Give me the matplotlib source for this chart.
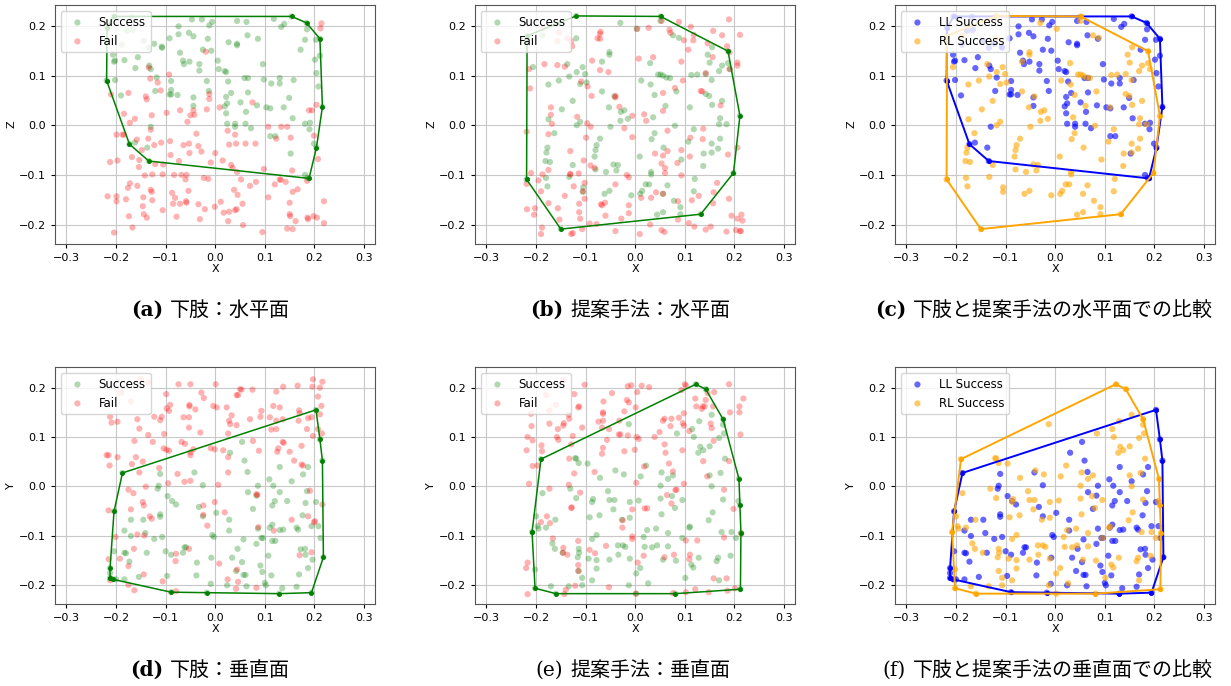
import numpy as np
import matplotlib
matplotlib.use("Agg")
import matplotlib.pyplot as plt

# ---- horizontal plane (X-Z) ----
ll_h_success = np.array([
    (-0.219, 0.090), (-0.218, 0.196), (-0.205, 0.219), (-0.168, 0.218), (-0.166, 0.192),
    (-0.178, 0.190), (-0.144, 0.170), (-0.188, 0.162), (-0.134, 0.156), (-0.123, 0.164),
    (-0.107, 0.156), (-0.206, 0.142), (-0.204, 0.128), (0.154, 0.219), (0.184, 0.206),
    (0.211, 0.174), (0.216, 0.037), (0.189, -0.107), (-0.134, -0.072), (-0.173, -0.038),
    (-0.074, 0.199), (-0.047, 0.213), (-0.027, 0.213), (-0.012, 0.201), (-0.006, 0.208),
    (0.044, 0.210), (0.063, 0.208), (0.118, 0.214), (0.133, 0.198), (0.139, 0.204),
    (-0.053, 0.186), (-0.044, 0.179), (-0.074, 0.183), (-0.015, 0.174), (0.044, 0.164),
    (0.044, 0.161), (0.027, 0.167), (0.065, 0.181), (0.086, 0.174), (0.185, 0.193),
    (0.181, 0.172), (0.203, 0.172), (0.211, 0.140), (0.201, 0.132), (0.172, 0.152),
    (0.204, 0.105), (0.208, 0.078), (0.158, 0.091), (0.130, 0.095), (0.130, 0.084),
    (0.113, 0.084), (0.138, 0.036), (0.149, 0.055), (0.156, 0.014), (0.103, 0.036),
    (0.111, 0.034), (0.181, 0.003), (0.191, 0.005), (0.190, -0.008), (0.199, -0.037),
    (0.204, -0.045), (0.152, -0.057), (0.111, -0.022), (0.121, -0.022), (0.181, -0.100),
    (0.186, -0.106), (0.096, 0.123), (0.098, 0.092), (0.059, 0.095), (0.066, 0.095),
    (0.066, 0.066), (0.051, 0.046), (0.062, 0.027), (0.061, 0.003), (0.072, -0.006),
    (0.084, 0.040), (0.040, 0.003), (0.040, -0.003), (0.024, 0.003), (0.019, 0.038),
    (0.024, 0.044), (0.022, 0.024), (0.022, 0.057), (0.032, 0.065), (0.026, 0.088),
    (0.019, 0.109), (0.022, 0.107), (0.007, 0.113), (0.005, 0.130), (-0.008, 0.150),
    (-0.025, 0.152), (-0.032, 0.123), (-0.032, 0.110), (-0.017, 0.089), (-0.013, 0.069),
    (-0.044, 0.056), (-0.044, 0.039), (-0.065, 0.130), (-0.063, 0.123), (-0.052, 0.128),
    (-0.071, 0.146), (-0.089, 0.089), (-0.089, 0.071), (-0.089, 0.062), (-0.092, 0.062),
    (-0.076, 0.061), (-0.118, 0.096), (-0.130, 0.113), (-0.133, 0.120), (-0.121, 0.069),
    (-0.130, -0.003), (-0.137, -0.045), (-0.161, 0.115), (-0.156, 0.137), (-0.183, 0.131),
    (-0.202, 0.130), (-0.202, 0.091), (-0.190, 0.060), (-0.162, -0.035), (-0.092, 0.175),
    (-0.108, 0.158),
])

ll_h_fail = np.array([
    (0.214, 0.205), (0.212, 0.195), (-0.019, 0.148), (-0.134, 0.116), (-0.093, 0.102),
    (-0.131, 0.094), (-0.116, 0.086), (-0.110, 0.070), (-0.175, 0.065), (-0.210, 0.062),
    (-0.140, 0.058), (-0.138, 0.052), (-0.012, 0.063), (-0.012, 0.053), (0.009, 0.036),
    (0.075, 0.046), (-0.071, 0.030), (-0.044, 0.030), (-0.017, 0.032), (-0.050, 0.020),
    (-0.042, 0.021), (-0.098, 0.025), (-0.128, 0.020), (-0.184, 0.023), (-0.162, 0.013),
    (-0.172, 0.005), (-0.056, 0.007), (0.189, 0.030), (0.195, 0.030), (0.204, 0.041),
    (-0.199, -0.019), (-0.187, -0.019), (-0.184, -0.019), (-0.158, -0.029), (-0.135, -0.027),
    (-0.130, -0.009), (-0.038, -0.017), (0.025, -0.011), (0.040, -0.019), (0.107, -0.003),
    (0.133, -0.003), (0.145, -0.003), (0.152, -0.025), (0.123, -0.027), (0.199, -0.021),
    (-0.109, -0.035), (-0.123, -0.040), (-0.091, -0.032), (-0.064, -0.040), (-0.053, -0.037),
    (-0.034, -0.042), (-0.028, -0.053), (-0.052, -0.056), (-0.090, -0.060), (0.028, -0.039),
    (0.042, -0.037), (0.061, -0.037), (0.081, -0.037), (-0.148, -0.050), (-0.168, -0.064),
    (-0.153, -0.070), (-0.197, -0.071), (-0.212, -0.074), (-0.154, -0.084), (-0.121, -0.078),
    (-0.105, -0.079), (-0.073, -0.072), (-0.009, -0.075), (0.000, -0.056), (0.015, -0.071),
    (0.032, -0.080), (0.035, -0.086), (0.044, -0.094), (0.098, -0.088), (0.207, -0.068),
    (0.155, -0.091), (-0.142, -0.101), (-0.127, -0.099), (-0.106, -0.099), (-0.083, -0.100),
    (-0.068, -0.100), (-0.058, -0.100), (-0.060, -0.109), (-0.023, -0.106), (-0.014, -0.108),
    (0.052, -0.109), (0.070, -0.122), (0.082, -0.114), (0.120, -0.119), (0.130, -0.109),
    (0.132, -0.110), (0.142, -0.114), (0.156, -0.134), (0.166, -0.129), (0.185, -0.112),
    (-0.172, -0.117), (-0.176, -0.126), (-0.157, -0.122), (-0.130, -0.130), (-0.128, -0.134),
    (-0.054, -0.132), (0.038, -0.130), (0.045, -0.140), (-0.087, -0.136), (-0.081, -0.146),
    (-0.217, -0.143), (-0.199, -0.143), (-0.199, -0.153), (-0.180, -0.149), (-0.145, -0.145),
    (-0.127, -0.151), (-0.059, -0.153), (-0.058, -0.156), (-0.085, -0.158), (-0.071, -0.158),
    (-0.034, -0.159), (0.011, -0.154), (0.055, -0.158), (0.107, -0.145), (0.150, -0.156),
    (0.219, -0.153), (-0.146, -0.163), (-0.144, -0.179), (-0.138, -0.186), (-0.106, -0.171),
    (-0.078, -0.184), (-0.021, -0.169), (-0.001, -0.164), (0.017, -0.176), (0.028, -0.174),
    (0.040, -0.171), (0.043, -0.169), (0.026, -0.193), (-0.031, -0.189), (0.056, -0.201),
    (-0.174, -0.183), (-0.167, -0.206), (-0.204, -0.216), (0.095, -0.215), (0.150, -0.179),
    (0.151, -0.183), (0.145, -0.208), (0.156, -0.209), (0.162, -0.193), (0.186, -0.186),
    (0.187, -0.189), (0.198, -0.183), (0.205, -0.186), (0.219, -0.197),
])

rl_h_success = np.array([
    (-0.218, 0.180), (-0.187, 0.181), (-0.119, 0.175), (-0.119, 0.220), (-0.030, 0.206),
    (0.051, 0.219), (0.051, 0.210), (0.003, 0.194), (0.076, 0.181), (0.088, 0.176),
    (-0.052, 0.147), (-0.052, 0.142), (-0.067, 0.128), (-0.137, 0.123), (-0.106, 0.117),
    (-0.118, 0.107), (-0.101, 0.103), (-0.133, 0.098), (-0.154, 0.090), (-0.175, 0.082),
    (-0.206, 0.117), (-0.111, 0.083), (-0.098, 0.086), (-0.067, 0.068), (-0.042, 0.058),
    (-0.126, 0.049), (-0.053, 0.036), (-0.148, 0.032), (-0.022, 0.030), (-0.029, 0.027),
    (-0.015, 0.013), (-0.030, 0.009), (-0.111, 0.007), (-0.118, 0.000), (-0.175, 0.012),
    (-0.163, -0.016), (-0.050, -0.003), (-0.071, -0.027), (-0.078, -0.040), (-0.080, -0.050),
    (-0.177, -0.045), (-0.179, -0.055), (-0.172, -0.074), (-0.181, -0.072), (-0.082, -0.063),
    (-0.080, -0.089), (-0.180, -0.106), (-0.177, -0.123), (-0.133, -0.104), (-0.126, -0.080),
    (-0.105, -0.125), (-0.105, -0.134), (-0.059, -0.094), (-0.044, -0.079), (-0.035, -0.080),
    (-0.038, -0.091), (-0.052, -0.132), (-0.062, -0.138), (-0.008, -0.141), (0.009, -0.063),
    (0.010, -0.138), (0.014, -0.132), (0.021, -0.119), (0.028, -0.119), (0.032, -0.094),
    (0.032, -0.099), (0.044, -0.180), (0.056, -0.175), (0.056, -0.138), (0.065, -0.121),
    (0.078, -0.152), (0.091, -0.165), (0.091, -0.179), (0.120, -0.108), (0.118, -0.133),
    (0.132, -0.179), (0.093, -0.069), (0.107, -0.033), (0.118, -0.008), (0.138, -0.057),
    (0.137, -0.082), (0.154, -0.037), (0.154, -0.055), (0.167, -0.047), (0.171, -0.027),
    (0.198, -0.096), (0.169, 0.002), (0.184, 0.002), (0.171, 0.014), (0.211, 0.019),
    (0.155, 0.041), (0.175, 0.049), (0.149, 0.059), (0.142, 0.063), (0.154, 0.091),
    (0.142, 0.103), (0.125, 0.102), (0.113, 0.101), (0.169, 0.109), (0.175, 0.120),
    (0.150, 0.126), (0.146, 0.142), (0.155, 0.157), (0.187, 0.149), (0.187, 0.125),
    (0.191, 0.113), (0.083, 0.068), (0.063, 0.096), (0.070, 0.095), (0.046, 0.102),
    (0.051, 0.102), (0.056, 0.100), (0.039, 0.061), (0.036, 0.016), (0.061, 0.039),
    (0.080, -0.001), (0.057, -0.045), (0.039, -0.016), (0.033, -0.028), (0.030, 0.125),
    (0.031, 0.082), (0.012, 0.090), (0.110, 0.036), (-0.219, -0.109), (-0.150, -0.209),
])

rl_h_fail = np.array([
    (0.189, 0.213), (0.211, 0.182), (0.157, 0.190), (0.175, 0.181), (0.088, 0.208),
    (0.053, 0.210), (0.027, 0.196), (0.004, 0.194), (0.069, 0.192), (0.071, 0.186),
    (0.112, 0.198), (0.118, 0.182), (0.098, 0.171), (0.117, 0.171), (0.107, 0.152),
    (0.146, 0.165), (0.156, 0.137), (0.185, 0.159), (0.190, 0.147), (0.206, 0.126),
    (0.206, 0.120), (0.190, 0.113), (0.142, 0.105), (0.093, 0.128), (0.036, 0.137),
    (0.007, 0.134), (0.096, 0.090), (0.080, 0.075), (0.056, 0.065), (0.132, 0.069),
    (0.135, 0.068), (0.172, 0.040), (0.056, 0.029), (0.018, 0.022), (-0.006, 0.019),
    (0.022, 0.009), (-0.070, 0.188), (-0.071, 0.184), (-0.076, 0.175), (-0.071, 0.174),
    (-0.071, 0.111), (-0.054, 0.107), (-0.087, 0.130), (-0.142, 0.118), (-0.157, 0.121),
    (-0.214, 0.113), (-0.183, 0.123), (-0.109, 0.088), (-0.096, 0.078), (-0.212, 0.074),
    (-0.088, 0.059), (-0.040, 0.059), (-0.040, 0.056), (-0.032, 0.037), (-0.170, 0.036),
    (-0.170, 0.021), (-0.168, 0.003), (-0.117, 0.017), (-0.097, 0.004), (-0.090, -0.003),
    (-0.022, -0.006), (-0.175, -0.018), (-0.099, -0.025), (-0.006, -0.024), (-0.219, -0.013),
    (-0.131, -0.052), (-0.104, -0.071), (-0.090, -0.081), (-0.082, -0.086), (-0.131, -0.098),
    (-0.131, -0.099), (-0.114, -0.097), (-0.210, -0.096), (-0.187, -0.099), (-0.175, -0.090),
    (-0.195, -0.111), (-0.190, -0.133), (-0.219, -0.118), (-0.124, -0.123), (-0.102, -0.116),
    (-0.106, -0.133), (-0.040, -0.119), (-0.017, -0.100), (-0.013, -0.105), (-0.142, -0.142),
    (-0.102, -0.148), (-0.218, -0.169), (-0.202, -0.167), (-0.204, -0.180), (-0.175, -0.157),
    (-0.156, -0.167), (-0.153, -0.190), (-0.188, -0.206), (-0.190, -0.219), (-0.129, -0.219),
    (-0.126, -0.217), (-0.113, -0.158), (-0.113, -0.175), (-0.111, -0.188), (-0.107, -0.209),
    (-0.092, -0.198), (-0.078, -0.199), (-0.069, -0.159), (-0.067, -0.161), (-0.061, -0.156),
    (-0.060, -0.182), (-0.028, -0.188), (-0.040, -0.213), (-0.013, -0.161), (-0.013, -0.177),
    (0.009, -0.219), (0.030, -0.200), (0.012, -0.146), (0.032, -0.146), (0.042, -0.135),
    (0.053, -0.077), (0.056, -0.061), (0.060, -0.086), (0.060, -0.096), (0.065, -0.052),
    (0.040, -0.057), (0.065, -0.011), (0.056, -0.138), (0.053, -0.211), (0.059, -0.215),
    (0.086, -0.153), (0.086, -0.190), (0.093, -0.101), (0.085, -0.076), (0.093, -0.050),
    (0.110, -0.063), (0.111, -0.025), (0.136, -0.028), (0.137, -0.007), (0.114, -0.151),
    (0.108, -0.197), (0.119, -0.204), (0.128, -0.142), (0.142, -0.210), (0.152, -0.204),
    (0.157, -0.157), (0.158, -0.135), (0.165, -0.116), (0.187, -0.059), (0.189, -0.148),
    (0.206, -0.045), (0.194, -0.182), (0.184, -0.214), (0.206, -0.188), (0.214, -0.180),
    (0.216, -0.192), (0.203, -0.211), (0.211, -0.213), (0.213, -0.213), (-0.153, 0.187),
    (-0.137, 0.175), (-0.129, 0.169), (-0.127, 0.159), (-0.157, 0.169), (-0.187, 0.195),
])

# ---- vertical plane (X-Y) ----
ll_v_success = np.array([
    (0.203, 0.155), (0.211, 0.095), (0.216, 0.052), (0.054, 0.090), (0.030, 0.068),
    (0.059, 0.052), (0.065, 0.029), (-0.042, 0.028), (-0.025, 0.002), (-0.111, 0.025),
    (-0.114, 0.001), (-0.116, -0.005), (-0.187, 0.027), (0.130, 0.039), (0.109, 0.014),
    (0.117, 0.001), (0.086, 0.001), (0.066, -0.012), (0.083, -0.019), (0.076, -0.046),
    (0.130, -0.012), (0.145, -0.030), (0.120, -0.030), (0.115, -0.039), (0.154, 0.010),
    (0.177, 0.024), (0.187, 0.039), (0.185, -0.010), (0.182, -0.034), (0.203, -0.032),
    (0.176, -0.059), (0.194, -0.081), (0.208, -0.081), (0.212, -0.105), (0.218, -0.144),
    (0.164, -0.084), (0.167, -0.088), (0.130, -0.089), (0.137, -0.088), (0.110, -0.084),
    (0.115, -0.078), (0.086, -0.086), (0.093, -0.105), (0.096, -0.105), (0.115, -0.111),
    (0.121, -0.111), (0.083, -0.117), (0.057, -0.108), (0.028, -0.068), (0.028, -0.090),
    (-0.006, -0.099), (-0.003, -0.103), (0.002, -0.054), (-0.025, -0.061), (-0.033, -0.042),
    (-0.079, -0.037), (-0.087, -0.030), (-0.096, -0.020), (-0.111, -0.057), (-0.111, -0.062),
    (-0.107, -0.103), (-0.123, -0.107), (-0.145, -0.068), (-0.141, -0.095), (-0.170, -0.068),
    (-0.170, -0.101), (-0.183, -0.090), (-0.204, -0.051), (-0.204, -0.132), (-0.183, -0.135),
    (-0.180, -0.136), (-0.173, -0.153), (-0.138, -0.135), (-0.100, -0.132), (-0.089, -0.139),
    (-0.065, -0.135), (-0.062, -0.124), (-0.059, -0.124), (-0.037, -0.155), (-0.038, -0.181),
    (-0.008, -0.145), (0.034, -0.145), (0.045, -0.127), (0.054, -0.154), (0.042, -0.172),
    (0.057, -0.180), (0.061, -0.180), (0.063, -0.203), (0.024, -0.201), (-0.009, -0.198),
    (-0.017, -0.216), (-0.089, -0.215), (-0.097, -0.182), (-0.154, -0.184), (-0.183, -0.189),
    (-0.200, -0.189), (-0.206, -0.189), (-0.212, -0.186), (-0.212, -0.176), (-0.212, -0.166),
    (0.107, -0.141), (0.091, -0.161), (0.095, -0.174), (0.113, -0.181), (0.100, -0.196),
    (0.102, -0.201), (0.129, -0.218), (0.135, -0.207), (0.164, -0.204), (0.169, -0.179),
    (0.172, -0.128), (0.181, -0.127), (0.182, -0.139), (0.196, -0.149), (0.187, -0.166),
    (0.194, -0.216),
])

ll_v_fail = np.array([
    (0.197, 0.217), (0.216, 0.212), (0.211, 0.200), (0.196, 0.202), (0.166, 0.204),
    (0.137, 0.202), (0.123, 0.192), (0.075, 0.196), (0.053, 0.196), (0.050, 0.197),
    (0.043, 0.185), (0.046, 0.185), (0.001, 0.207), (-0.050, 0.207), (-0.074, 0.207),
    (-0.099, 0.187), (-0.028, 0.190), (-0.023, 0.179), (-0.004, 0.163), (0.003, 0.160),
    (0.023, 0.160), (0.033, 0.144), (0.028, 0.133), (0.030, 0.126), (0.043, 0.124),
    (0.070, 0.136), (0.093, 0.153), (0.091, 0.141), (0.117, 0.163), (0.130, 0.160),
    (0.110, 0.140), (0.123, 0.133), (0.136, 0.136), (0.113, 0.115), (0.123, 0.116),
    (0.169, 0.154), (0.170, 0.148), (0.168, 0.133), (0.187, 0.138), (0.194, 0.140),
    (0.185, 0.116), (0.207, 0.182), (0.214, 0.163), (0.211, 0.146), (0.197, 0.102),
    (0.215, 0.107), (0.207, 0.116), (0.136, 0.090), (0.138, 0.088), (0.127, 0.077),
    (0.125, 0.070), (0.150, 0.070), (0.174, 0.082), (0.159, 0.052), (0.174, 0.044),
    (0.177, 0.042), (0.088, 0.072), (0.076, 0.092), (0.026, 0.107), (0.016, 0.073),
    (-0.001, 0.075), (-0.009, 0.077), (0.026, 0.059), (0.026, 0.028), (0.006, 0.003),
    (-0.044, 0.075), (-0.050, 0.069), (-0.050, 0.063), (-0.068, 0.090), (-0.061, 0.086),
    (-0.064, 0.140), (-0.053, 0.140), (-0.052, 0.165), (-0.052, 0.162), (-0.040, 0.156),
    (-0.030, 0.109), (-0.053, 0.119), (-0.091, 0.165), (-0.093, 0.153), (-0.098, 0.158),
    (-0.108, 0.141), (-0.111, 0.134), (-0.123, 0.141), (-0.103, 0.106), (-0.104, 0.077),
    (-0.098, 0.074), (-0.093, 0.072), (-0.135, 0.104), (-0.126, 0.090), (-0.163, 0.092),
    (-0.157, 0.136), (-0.153, 0.117), (-0.160, 0.059), (-0.146, 0.050), (-0.168, 0.045),
    (-0.153, 0.028), (-0.076, 0.025), (-0.062, 0.009), (-0.050, 0.011), (-0.113, 0.037),
    (-0.095, 0.006), (-0.140, -0.001), (-0.175, -0.007), (-0.165, -0.014), (-0.146, -0.032),
    (-0.144, -0.039), (-0.170, -0.047), (-0.132, -0.061), (-0.128, -0.066), (-0.001, -0.032),
    (-0.024, -0.039), (-0.024, -0.058), (-0.016, -0.080), (0.019, -0.053), (0.083, -0.016),
    (0.085, -0.018), (0.087, -0.083), (0.118, -0.090), (0.154, -0.068), (0.187, -0.061),
    (0.199, -0.073), (0.201, -0.071), (0.216, -0.037), (0.191, -0.009), (0.170, -0.140),
    (0.194, -0.134), (-0.215, 0.063), (-0.219, 0.063), (-0.213, 0.042), (-0.197, 0.059),
    (-0.209, 0.129), (-0.212, 0.141), (-0.197, 0.131), (-0.215, -0.049), (-0.201, -0.103),
    (-0.215, -0.148), (-0.192, -0.147), (-0.175, -0.162), (-0.164, -0.127), (-0.144, -0.179),
    (-0.143, -0.100), (-0.157, -0.098), (-0.175, -0.200), (-0.163, -0.211), (-0.212, -0.191),
    (-0.106, -0.193), (-0.080, -0.152), (-0.079, -0.213), (-0.079, -0.137), (-0.053, -0.127),
    (0.008, -0.157), (0.025, -0.189), (0.044, -0.169), (0.046, -0.194), (0.042, -0.208),
    (0.083, -0.206), (-0.150, 0.218), (-0.135, 0.210), (-0.190, 0.190), (-0.170, 0.172),
])

rl_v_success = np.array([
    (0.122, 0.207), (0.142, 0.197), (-0.013, 0.126), (0.154, 0.145), (0.177, 0.136),
    (0.177, 0.125), (0.179, 0.107), (0.129, 0.132), (0.115, 0.116), (0.118, 0.100),
    (0.084, 0.107), (0.131, 0.080), (0.137, 0.073), (0.127, 0.068), (0.150, 0.081),
    (0.169, 0.098), (0.181, 0.056), (0.172, 0.027), (0.150, 0.022), (0.154, 0.000),
    (0.177, -0.027), (0.156, -0.053), (0.148, -0.069), (0.174, -0.093), (0.194, -0.093),
    (0.203, -0.105), (0.209, 0.015), (0.208, -0.030), (0.211, -0.039), (0.213, -0.095),
    (0.192, -0.141), (0.167, -0.145), (0.164, -0.152), (0.169, -0.191), (0.212, -0.209),
    (0.128, -0.145), (0.113, -0.159), (0.117, -0.165), (0.101, -0.186), (0.082, -0.151),
    (0.081, -0.218), (0.095, -0.105), (0.095, -0.028), (0.110, -0.082), (0.109, -0.084),
    (0.080, -0.044), (0.074, -0.020), (0.076, 0.022), (0.066, 0.015), (0.051, 0.001),
    (0.051, -0.025), (0.053, -0.057), (0.066, -0.095), (0.066, -0.122), (0.056, -0.149),
    (0.042, -0.086), (0.024, -0.089), (0.034, -0.124), (0.044, -0.120), (0.019, -0.123),
    (0.017, -0.103), (0.010, -0.166), (0.026, -0.197), (0.002, -0.177), (-0.013, -0.201),
    (0.002, -0.218), (-0.011, -0.147), (-0.020, -0.123), (-0.035, -0.120), (-0.025, -0.120),
    (-0.034, -0.139), (-0.052, -0.149), (-0.078, -0.150), (-0.078, -0.167), (-0.087, -0.107),
    (-0.078, -0.099), (-0.092, -0.063), (-0.072, -0.059), (-0.085, -0.026), (-0.087, -0.032),
    (-0.055, -0.010), (-0.052, -0.028), (-0.044, -0.047), (-0.042, -0.028), (-0.027, -0.068),
    (-0.011, -0.064), (-0.011, -0.032), (0.007, -0.029), (-0.023, 0.024), (-0.040, 0.032),
    (-0.071, 0.017), (-0.096, 0.046), (-0.119, 0.056), (-0.114, 0.047), (-0.119, -0.024),
    (-0.131, -0.005), (0.011, 0.020), (0.022, 0.042), (0.053, 0.028), (-0.187, -0.014),
    (-0.200, -0.061), (-0.197, -0.081), (-0.195, -0.086), (-0.208, -0.093), (-0.180, -0.084),
    (-0.161, -0.068), (-0.167, -0.116), (-0.162, -0.127), (-0.146, -0.135), (-0.114, -0.127),
    (-0.113, -0.135), (-0.116, -0.144), (-0.094, -0.147), (-0.114, -0.172), (-0.107, -0.186),
    (-0.107, -0.201), (-0.087, -0.191), (-0.134, -0.203), (-0.160, -0.218), (-0.170, -0.203),
    (-0.202, -0.207), (-0.202, -0.169), (-0.190, 0.055), (-0.121, 0.057),
])

rl_v_fail = np.array([
    (0.189, 0.207), (0.218, 0.178), (0.210, 0.162), (0.210, 0.150), (0.212, 0.105),
    (0.159, 0.191), (0.146, 0.189), (0.142, 0.175), (0.140, 0.162), (0.121, 0.178),
    (0.123, 0.162), (0.136, 0.162), (0.134, 0.157), (0.157, 0.162), (0.152, 0.127),
    (0.154, 0.118), (0.191, 0.150), (0.158, 0.092), (0.189, 0.051), (0.137, 0.051),
    (0.145, 0.020), (0.179, -0.007), (0.198, -0.046), (0.214, -0.096), (0.179, -0.104),
    (0.184, -0.187), (0.201, -0.207), (0.186, -0.212), (0.158, -0.187), (0.148, -0.215),
    (0.121, -0.209), (0.102, -0.215), (0.076, -0.217), (0.125, -0.110), (0.102, -0.110),
    (0.110, -0.139), (0.109, -0.148), (0.078, -0.139), (0.059, -0.144), (0.098, 0.005),
    (0.095, 0.073), (0.088, 0.139), (0.096, 0.128), (0.098, 0.123), (0.100, 0.207),
    (0.102, 0.204), (0.093, 0.195), (0.109, 0.112), (0.098, 0.148), (0.073, 0.137),
    (0.071, 0.122), (0.056, 0.133), (0.059, 0.137), (0.049, 0.110), (0.039, 0.100),
    (0.059, 0.085), (0.061, 0.068), (0.068, 0.046), (0.076, 0.030), (0.018, 0.040),
    (0.007, 0.096), (0.003, 0.100), (-0.001, 0.074), (0.001, 0.160), (-0.022, 0.152),
    (-0.017, 0.175), (-0.013, 0.170), (-0.015, 0.203), (-0.008, 0.205), (0.013, 0.204),
    (0.028, 0.201), (0.004, 0.191), (-0.047, 0.189), (-0.064, 0.172), (-0.065, 0.150),
    (-0.065, 0.147), (-0.074, 0.131), (-0.065, 0.133), (-0.053, 0.116), (-0.067, 0.119),
    (-0.032, 0.133), (-0.030, 0.105), (-0.033, 0.105), (-0.015, 0.103), (-0.022, 0.071),
    (-0.065, 0.078), (-0.067, 0.066), (-0.057, 0.094), (-0.102, 0.206), (-0.123, 0.187),
    (-0.113, 0.162), (-0.115, 0.160), (-0.107, 0.119), (-0.134, 0.145), (-0.133, 0.137),
    (-0.144, 0.128), (-0.145, 0.123), (-0.156, 0.116), (-0.158, 0.100), (-0.155, 0.094),
    (-0.126, 0.102), (-0.129, 0.085), (-0.173, 0.127), (-0.173, 0.154), (-0.210, 0.147),
    (-0.209, 0.122), (-0.217, 0.100), (-0.207, 0.093), (-0.219, 0.073), (-0.189, 0.083),
    (-0.188, 0.071), (-0.197, 0.042), (-0.207, 0.041), (-0.214, 0.005), (-0.173, -0.005),
    (-0.133, 0.056), (-0.123, 0.026), (-0.134, 0.003), (-0.111, -0.013), (-0.082, 0.029),
    (-0.128, -0.043), (-0.129, -0.044), (-0.178, -0.061), (-0.190, -0.073), (-0.172, -0.075),
    (-0.166, -0.106), (-0.145, -0.125), (-0.146, -0.135), (-0.137, -0.139), (-0.115, -0.111),
    (-0.115, -0.160), (-0.115, -0.172), (-0.121, -0.202), (-0.140, -0.210), (-0.143, -0.219),
    (-0.217, -0.155), (-0.220, -0.166), (-0.217, -0.219), (-0.092, -0.129), (-0.081, -0.136),
    (-0.059, -0.121), (-0.053, -0.205), (-0.026, -0.084), (-0.025, -0.069), (-0.006, -0.102),
    (-0.006, -0.107), (-0.006, -0.047), (0.002, 0.007), (0.005, -0.155), (0.001, -0.218),
    (0.019, -0.045), (0.017, -0.141), (0.024, -0.045), (0.064, -0.018), (0.073, -0.035),
    (0.081, -0.008), (0.083, -0.007), (-0.145, 0.215), (-0.180, 0.185), (-0.160, 0.165),
])

captions = [
    ("(a)", "下肢：水平面", "bold"),
    ("(b)", "提案手法：水平面", "bold"),
    ("(c)", "下肢と提案手法の水平面での比較", "bold"),
    ("(d)", "下肢：垂直面", "bold"),
    ("(e)", "提案手法：垂直面", "normal"),
    ("(f)", "下肢と提案手法の垂直面での比較", "normal"),
]


def convex_hull(pts):
    pts = sorted(map(tuple, pts))

    def cross(o, a, b):
        return (a[0] - o[0]) * (b[1] - o[1]) - (a[1] - o[1]) * (b[0] - o[0])

    lower, upper = [], []
    for p in pts:
        while len(lower) >= 2 and cross(lower[-2], lower[-1], p) <= 0:
            lower.pop()
        lower.append(p)
    for p in reversed(pts):
        while len(upper) >= 2 and cross(upper[-2], upper[-1], p) <= 0:
            upper.pop()
        upper.append(p)
    hull = lower[:-1] + upper[:-1]
    hull.append(hull[0])
    return np.array(hull)


def draw_hull(ax, pts, color, lw):
    h = convex_hull(pts)
    ax.plot(h[:, 0], h[:, 1], color=color, linewidth=lw, marker="o", markersize=2.5)


def style(ax, ylabel):
    ax.set_xlim(-0.323, 0.322)
    ax.set_ylim(-0.239, 0.242)
    ax.set_xticks([-0.3, -0.2, -0.1, 0.0, 0.1, 0.2, 0.3])
    ax.set_yticks([-0.2, -0.1, 0.0, 0.1, 0.2])
    ax.tick_params(labelsize=8, length=3)
    ax.grid(True, color="#c8c8c8", linewidth=0.8)
    ax.set_axisbelow(True)
    ax.set_xlabel("X", fontsize=8, labelpad=1)
    ax.set_ylabel(ylabel, fontsize=8, labelpad=2)
    for sp in ax.spines.values():
        sp.set_color("#555555")
    ax.legend(loc="upper left", fontsize=8.5, borderaxespad=0.5)


fig = plt.figure(figsize=(12.31, 6.86), dpi=100)
W, H = 1231, 686
lefts = [55, 475, 895]
tops = [5, 367]
heights = [239, 237]


def make_ax(row, col):
    return fig.add_axes([lefts[col] / W, 1 - (tops[row] + heights[row]) / H,
                         320 / W, heights[row] / H])


S = 20
pairs = [
    (ll_h_success, ll_h_fail, rl_h_success, rl_h_fail, "Z"),
    (ll_v_success, ll_v_fail, rl_v_success, rl_v_fail, "Y"),
]
for row, (ll_s, ll_f, rl_s, rl_f, ylab) in enumerate(pairs):
    for col, (succ, fail) in enumerate([(ll_s, ll_f), (rl_s, rl_f)]):
        ax = make_ax(row, col)
        ax.scatter(succ[:, 0], succ[:, 1], s=S, color="green", alpha=0.3,
                   edgecolors="none", label="Success")
        ax.scatter(fail[:, 0], fail[:, 1], s=S, color="red", alpha=0.3,
                   edgecolors="none", label="Fail")
        draw_hull(ax, succ, "green", 1.1)
        style(ax, ylab)

    ax = make_ax(row, 2)
    ax.scatter(ll_s[:, 0], ll_s[:, 1], s=S, color="blue", alpha=0.6,
               edgecolors="none", label="LL Success")
    ax.scatter(rl_s[:, 0], rl_s[:, 1], s=S, color="orange", alpha=0.6,
               edgecolors="none", label="RL Success")
    draw_hull(ax, ll_s, "blue", 1.4)
    draw_hull(ax, rl_s, "orange", 1.4)
    style(ax, ylab)

# captions under each panel
cap_starts = [128, 528, 871]
cap_y = [310, 670]
for i, (tag, text, weight) in enumerate(captions):
    row, col = divmod(i, 3)
    x0 = cap_starts[col]
    y = 1 - cap_y[row] / H
    fig.text((x0 + 35) / W, y, tag, ha="right", va="center", fontsize=14.5,
             family="DejaVu Serif", weight=weight)
    fig.text((x0 + 42) / W, y, text, ha="left", va="center", fontsize=14.4,
             family=["Noto Sans CJK JP", "DejaVu Sans"])

fig.savefig("out.png", dpi=100)
